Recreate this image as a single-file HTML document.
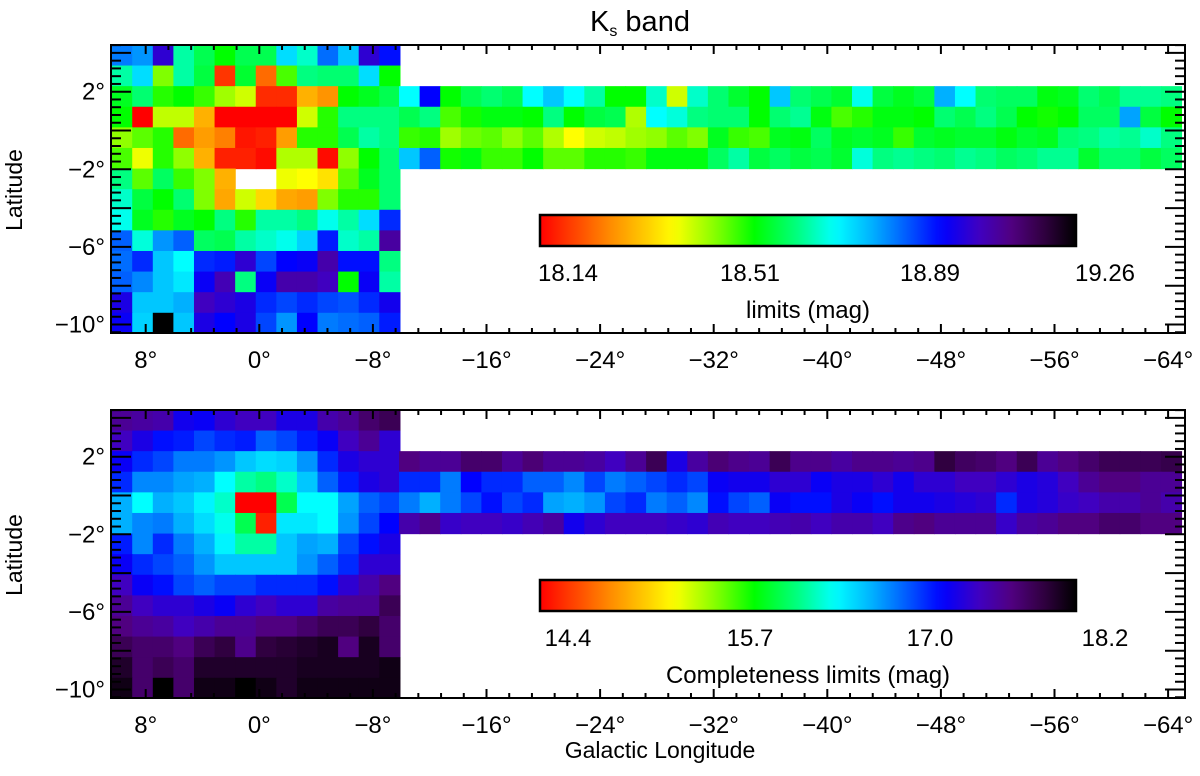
<!DOCTYPE html>
<html><head><meta charset="utf-8"><style>
body{margin:0;background:#fff}
svg{display:block;font-family:"Liberation Sans",sans-serif}
</style></head><body>
<svg id="fig" width="1200" height="776" viewBox="0 0 1200 776" xmlns="http://www.w3.org/2000/svg">
<text x="640" y="31" font-size="29" text-anchor="middle">K<tspan font-size="16" dy="5">s</tspan><tspan dy="-5"> band</tspan></text>
<text transform="translate(22,190) rotate(-90)" font-size="23" text-anchor="middle">Latitude</text>
<text transform="translate(22,555) rotate(-90)" font-size="23" text-anchor="middle">Latitude</text>
<text x="660" y="758" font-size="23" text-anchor="middle">Galactic Longitude</text>
</svg>
<script>
// ---- data (colour level 0=red ... 100=black) ----
const topBlock = [
[66,64,80,50,45,40,45,45,58,52,67,60,80,74],
[50,58,33,50,44,5,43,10,36,48,47,47,58,40],
[42,47,38,40,37,31,28,4,4,17,14,40,42,45],
[40,0,29,29,17,0,0,0,0,28,38,48,48,48],
[32,35,38,10,15,12,2,3,15,38,38,45,50,48],
[36,26,38,32,17,3,3,1,30,30,1,32,40,47],
[48,35,46,37,33,17,null,null,26,25,22,35,42,47],
[52,44,40,47,33,16,28,21,16,15,33,38,38,47],
[54,42,38,42,40,48,38,50,50,48,54,50,58,72],
[68,53,64,68,46,45,50,52,54,59,73,52,50,85],
[67,72,60,55,72,73,80,70,75,76,84,74,74,48],
[68,65,60,57,76,83,48,76,84,84,82,40,76,50],
[78,60,60,62,82,80,78,72,70,72,70,69,72,77],
[76,59,100,60,78,75,78,70,64,75,66,67,68,73]];
const topStrip = [
[55,75,40,45,47,45,55,60,55,50,40,40,52,28,52,47,43,40,60,47,45,43,54,44,42,44,62,55,47,46,46,41,42,47,45,49,49,48],
[45,48,36,39,41,41,40,48,40,44,45,30,55,53,48,47,47,40,47,49,41,36,38,41,41,40,47,45,48,45,40,39,40,46,46,63,44,40],
[37,38,31,34,35,32,35,30,25,28,29,31,32,35,33,42,37,36,42,41,46,42,43,42,37,43,42,43,43,41,43,42,47,48,50,49,52,48],
[60,68,39,41,37,37,40,35,35,38,38,37,41,41,41,46,50,44,46,44,45,43,53,48,49,48,47,49,48,46,47,49,49,43,47,47,44,46]];
const botBlock = [
[86,85,84,77,76,80,82,82,78,78,84,86,90,92],
[82,78,74,73,70,72,73,68,70,73,76,82,86,80],
[76,72,70,66,66,64,60,58,59,64,72,78,80,80],
[72,65,65,63,62,55,50,48,52,60,68,73,78,80],
[62,55,62,60,56,52,0,0,45,55,55,63,68,70],
[62,65,66,62,58,54,45,3,57,57,55,64,70,75],
[73,65,72,66,62,56,50,50,60,63,62,70,74,78],
[76,72,70,68,64,60,60,60,60,64,68,72,80,80],
[82,76,74,70,68,70,70,72,72,72,74,80,84,88],
[86,82,80,80,78,76,80,82,80,80,85,86,86,92],
[88,86,85,82,84,86,86,88,88,90,92,92,94,90],
[92,90,90,88,92,94,87,94,95,96,97,88,97,90],
[96,90,92,90,96,96,96,96,96,97,97,97,97,98],
[98,90,100,90,98,98,100,98,96,98,98,98,98,98]];
const botStrip = [
[88,86,86,90,90,86,89,86,86,85,82,86,92,78,85,89,87,86,92,87,87,85,87,87,86,87,94,91,90,88,92,86,88,90,92,92,92,93],
[72,72,66,75,72,72,68,68,65,70,66,68,70,72,70,76,77,77,80,80,76,78,78,80,77,80,80,82,82,80,78,79,82,86,88,88,86,86],
[66,62,66,70,74,70,72,63,62,64,70,72,66,68,65,74,70,68,76,74,74,78,76,74,77,77,78,79,80,72,78,79,81,82,84,84,86,84],
[84,87,81,82,82,81,83,85,77,80,82,82,82,81,80,83,82,82,83,84,82,84,84,82,87,88,86,86,86,81,85,86,88,88,90,90,88,88]];
const xTickLabels = [8,0,-8,-16,-24,-32,-40,-48,-56,-64];
const yTickLabels = [2,-2,-6,-10];
const topCbLabels = ["18.14","18.51","18.89","19.26"];
const botCbLabels = ["14.4","15.7","17.0","18.2"];

// ---- geometry ----
const NS="http://www.w3.org/2000/svg";
const svg=document.getElementById('fig');
const X0=111,X1=1185;
const panels=[{top:45,bottom:333,block:topBlock,strip:topStrip,cb:topCbLabels,cbTitle:"limits (mag)",name:"top"},
              {top:410,bottom:698,block:botBlock,strip:botStrip,cb:botCbLabels,cbTitle:"Completeness limits (mag)",name:"bottom"}];
function xScale(lon){return 259.3-lon*14.2;}
function yScaleFor(off){return lat=>130.5+off-lat*19.4;}
const cellLon=1.45, cellLat=1.062, lonStart=10.4, stripLonStart=-9.84, latTop=4.41;
const stops=[[0,[255,0,0]],[12,[255,128,0]],[25,[255,255,0]],[33,[128,255,0]],[40,[0,255,0]],[48,[0,255,128]],[55,[0,255,255]],[62,[0,176,255]],[68,[0,96,255]],[75,[0,0,255]],[82,[64,0,192]],[88,[80,0,128]],[94,[48,0,64]],[100,[0,0,0]]];
function cmap(v){for(let i=1;i<stops.length;i++){if(v<=stops[i][0]){const a=stops[i-1],b=stops[i];const t=(v-a[0])/(b[0]-a[0]);const c=a[1].map((x,k)=>Math.round(x+(b[1][k]-x)*t));return `rgb(${c})`;}}return 'rgb(0,0,0)';}
function el(tag,attrs,parent){const e=document.createElementNS(NS,tag);for(const k in attrs)e.setAttribute(k,attrs[k]);(parent||svg).appendChild(e);return e;}

const defs=el('defs',{});
const grad=el('linearGradient',{id:'cmapgrad',x1:'0',x2:'1',y1:'0',y2:'0'},defs);
for(let v=0;v<=100;v+=2){el('stop',{offset:(v/100),'stop-color':cmap(v)},grad);}

panels.forEach((p,pi)=>{
  const off=pi*365;
  const yS=yScaleFor(off);
  const g=el('g',{});
  
  
  p.block.forEach((row,r)=>row.forEach((v,c)=>{
    if(v===null)return;
    const x=xScale(lonStart-c*cellLon), x2=xScale(lonStart-(c+1)*cellLon);
    const y=yS(latTop-r*cellLat), y2=yS(latTop-(r+1)*cellLat);
    const rc=el('rect',{x:x,y:y,width:x2-x+0.6,height:y2-y+0.6,fill:cmap(v)},g);
    
    
  }));
  p.strip.forEach((row,r)=>row.forEach((v,c)=>{
    const x=xScale(stripLonStart-c*cellLon), x2=Math.min(X1,xScale(stripLonStart-(c+1)*cellLon));
    const y=yS(latTop-(r+2)*cellLat), y2=yS(latTop-(r+3)*cellLat);
    const rc=el('rect',{x:x,y:y,width:x2-x+0.6,height:y2-y+0.6,fill:cmap(v)},g);
    
    
  }));
  const tg=el('g',{stroke:'#000','stroke-width':2});
  
  
  for(let k=0;;k++){const lon=8-k*1.6;const x=xScale(lon);if(lon<-66)break;if(x<X0||x>X1)continue;
    const major=(k%5===0);const L=major?9:5;
    el('line',{x1:x,x2:x,y1:p.bottom,y2:p.bottom-L},tg);el('line',{x1:x,x2:x,y1:p.top,y2:p.top+L},tg);}
  for(let lat=-12;lat<=5;lat+=0.4){const y=yS(lat);if(y<p.top||y>p.bottom)continue;
    const major=Math.abs(Math.round(lat*10)%20)===0;const L=major?20:10;
    el('line',{x1:X0,x2:X0+L,y1:y,y2:y},tg);el('line',{x1:X1,x2:X1-L,y1:y,y2:y},tg);}
  const fr=el('rect',{x:X0,y:p.top,width:X1-X0,height:p.bottom-p.top,fill:'none',stroke:'#000','stroke-width':2});
  
  
  xTickLabels.forEach(l=>{const t=el('text',{x:xScale(l),y:p.bottom+35,'font-size':24,'text-anchor':'middle'});
    t.textContent=(l<0?'\u2212'+(-l):l)+'\u00b0';
    
    });
  yTickLabels.forEach(l=>{const t=el('text',{x:X0-6,y:yS(l)+8,'font-size':24,'text-anchor':'end'});
    t.textContent=(l<0?'\u2212'+(-l):l)+'\u00b0';
    
    });
  const cbTop=215+off;
  const cb=el('rect',{x:540,y:cbTop,width:536,height:31,fill:'url(#cmapgrad)',stroke:'#000','stroke-width':2.5});
  
  
  const cbx=[568,750,930,1105];
  p.cb.forEach((s,i)=>{const t=el('text',{x:cbx[i],y:cbTop+66,'font-size':24,'text-anchor':'middle'});t.textContent=s;
    
    });
  const ct=el('text',{x:808,y:cbTop+103,'font-size':24,'text-anchor':'middle'});ct.textContent=p.cbTitle;
  
  
});
</script>
</body></html>
